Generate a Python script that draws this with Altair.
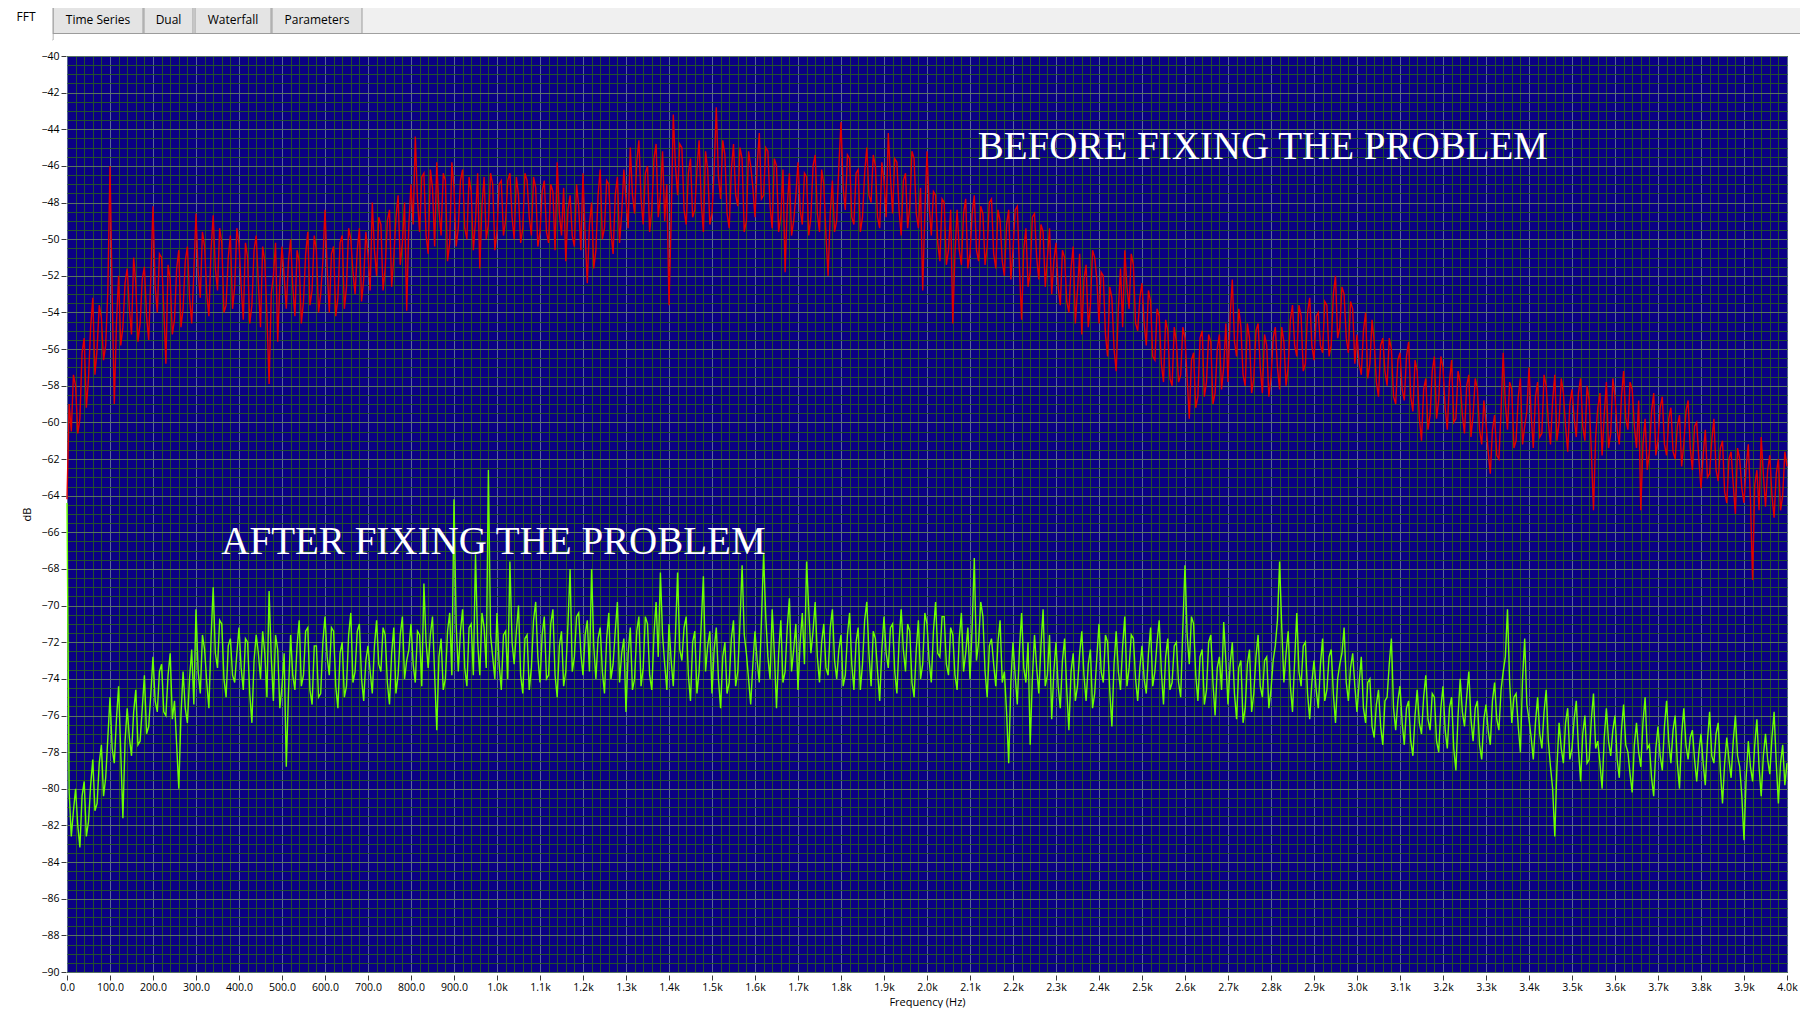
import altair as alt
import pandas as pd

# ---------------- data ----------------
# "BEFORE" spectrum, values at 0, 10, 20 ... 4000 Hz
BEFORE_DB_EVEN = [
    -64.2, -60.5, -58.0, -59.8, -55.4, -57.6, -53.2, -56.0, -54.3, -55.8,
    -46.0, -59.0, -52.0, -54.8, -51.6, -55.2, -52.4, -54.6, -51.5, -55.5,
    -48.2, -54.0, -51.0, -56.8, -52.2, -54.4, -50.6, -53.8, -50.4, -54.6,
    -48.6, -53.2, -50.4, -54.2, -48.7, -52.8, -50.2, -53.6, -49.8, -52.6,
    -50.2, -54.4, -51.0, -53.6, -49.8, -54.8, -51.2, -57.9, -52.0, -55.6,
    -50.4, -53.8, -50.0, -54.2, -51.2, -53.4, -49.6, -52.8, -50.6, -53.0,
    -48.4, -54.0, -50.4, -53.2, -49.8, -52.6, -50.0, -53.0, -49.4, -52.2,
    -50.8, -48.0, -52.0, -49.2, -51.6, -48.4, -51.0, -47.6, -50.2, -53.9,
    -47.0, -44.4, -49.6, -46.4, -50.8, -47.2, -45.8, -49.8, -46.8, -50.2,
    -47.2, -49.4, -46.2, -50.0, -47.4, -49.0, -51.6, -46.6, -49.2, -47.0,
    -49.6, -46.8, -49.0, -46.4, -50.0, -47.6, -49.4, -46.8, -49.8, -47.2,
    -49.6, -46.8, -50.2, -47.4, -45.8, -49.8, -51.2, -47.6, -50.4, -48.2,
    -46.4, -52.4, -48.0, -50.6, -46.2, -49.4, -47.0, -50.8, -46.6, -48.6,
    -47.8, -45.0, -48.6, -44.6, -49.2, -46.0, -48.4, -44.8, -47.6, -49.0,
    -53.6, -43.2, -47.6, -45.0, -49.2, -45.6, -48.4, -44.6, -49.6, -46.2,
    -48.6, -42.8, -47.8, -45.4, -49.4, -44.8, -48.2, -45.6, -49.0, -46.0,
    -48.8, -44.2, -47.6, -45.2, -49.4, -46.0, -48.8, -51.8, -46.4, -49.0,
    -45.8, -49.2, -46.6, -48.8, -45.4, -49.6, -47.0, -52.0, -46.8, -49.0,
    -43.6, -48.4, -45.6, -49.2, -46.2, -48.8, -45.0, -48.0, -46.0, -49.4,
    -46.8, -44.2, -48.6, -45.8, -49.8, -46.4, -48.2, -45.6, -49.4, -52.8,
    -45.2, -49.8, -47.6, -51.2, -48.0, -50.6, -54.6, -48.4, -51.4, -47.8,
    -50.8, -47.6, -51.2, -48.6, -50.4, -47.8, -51.6, -49.0, -52.0, -48.4,
    -50.6, -48.2, -54.4, -49.4, -51.8, -48.6, -52.2, -49.6, -51.0, -53.0,
    -50.2, -53.6, -51.0, -54.0, -50.4, -52.8, -55.2, -51.4, -53.6, -51.0,
    -54.6, -52.0, -56.4, -53.2, -57.2, -51.6, -50.6, -53.8, -51.4, -55.0,
    -52.4, -55.8, -53.4, -56.6, -54.2, -57.8, -55.0, -58.0, -55.6, -57.4,
    -55.4, -59.8, -56.2, -58.6, -55.0, -57.8, -55.6, -58.4, -55.2, -57.0,
    -57.8, -52.2, -56.4, -54.8, -58.0, -55.4, -57.6, -54.6, -58.4, -55.8,
    -57.6, -54.8, -58.2, -55.6, -57.0, -53.6, -56.4, -54.2, -56.8, -53.2,
    -56.6, -54.0, -56.2, -53.6, -55.8, -52.0, -54.8, -53.0, -56.2, -53.8,
    -55.2, -57.4, -54.0, -56.8, -55.6, -58.6, -55.4, -58.0, -56.0, -59.0,
    -56.2, -58.8, -55.6, -59.4, -57.2, -61.0, -57.6, -59.6, -56.4, -58.8,
    -57.0, -60.4, -56.6, -59.8, -57.8, -60.6, -57.4, -59.6, -58.2, -61.2,
    -60.0, -62.8, -59.6, -62.0, -56.2, -60.4, -58.2, -61.0, -57.6, -60.2,
    -57.0, -61.4, -57.8, -60.6, -58.0, -61.2, -57.4, -60.0, -58.4, -61.6,
    -58.2, -60.8, -57.6, -61.0, -58.8, -64.8, -59.2, -61.8, -57.8, -60.6,
    -58.6, -61.2, -57.2, -60.4, -58.2, -61.4, -64.8, -59.8, -61.6, -58.4,
    -61.0, -58.6, -61.8, -59.2, -62.0, -59.6, -61.2, -58.8, -62.6, -60.0,
    -63.6, -60.4, -62.8, -59.8, -63.2, -61.0, -64.4, -61.6, -65.0, -62.0,
    -64.4, -61.2, -68.6, -62.6, -60.8, -64.6, -61.8, -65.2, -62.0, -64.0,
    -62.4,
]
# "BEFORE" spectrum, values at 5, 15, 25 ... 3995 Hz
BEFORE_DB_ODD = [
    -59.0, -57.4, -60.6, -56.2, -59.2, -54.8, -57.4, -53.6, -56.6, -52.8,
    -53.0, -54.6, -55.8, -52.4, -53.8, -51.0, -55.6, -52.2, -54.2, -52.0,
    -52.6, -50.8, -53.8, -51.4, -55.2, -51.6, -54.8, -51.2, -53.2, -51.8,
    -51.8, -49.6, -53.0, -50.6, -51.6, -49.4, -54.0, -51.0, -53.8, -49.4,
    -52.6, -50.2, -54.6, -50.6, -52.4, -50.4, -54.2, -53.0, -50.2, -52.4,
    -52.0, -51.2, -52.6, -50.6, -54.6, -50.8, -53.6, -49.8, -54.0, -51.2,
    -51.6, -50.8, -54.2, -50.2, -53.8, -49.4, -51.8, -50.6, -53.4, -49.6,
    -52.8, -50.6, -48.8, -52.8, -49.0, -52.6, -48.8, -51.4, -48.0, -49.2,
    -49.2, -47.8, -46.6, -49.8, -46.2, -50.4, -48.4, -46.4, -51.2, -45.8,
    -50.4, -46.8, -49.4, -46.6, -50.6, -46.4, -48.2, -50.0, -46.4, -50.6,
    -47.0, -49.8, -46.8, -48.8, -46.6, -50.2, -46.4, -48.8, -46.6, -50.4,
    -47.4, -49.6, -47.0, -50.6, -48.6, -47.2, -48.4, -49.8, -47.0, -50.6,
    -49.8, -49.2, -51.6, -47.6, -50.0, -46.8, -49.6, -47.6, -50.2, -46.2,
    -49.4, -47.6, -45.8, -47.8, -46.4, -49.6, -45.6, -48.8, -45.2, -47.0,
    -49.0, -46.0, -44.8, -48.4, -46.4, -48.8, -46.2, -48.0, -45.2, -49.2,
    -46.2, -46.6, -44.6, -48.6, -46.2, -47.6, -45.0, -49.6, -45.2, -47.2,
    -46.0, -47.8, -45.0, -48.2, -45.6, -49.6, -46.2, -48.2, -49.8, -47.6,
    -48.4, -46.4, -49.8, -46.0, -48.6, -46.2, -49.8, -48.6, -49.6, -46.0,
    -47.2, -45.4, -48.8, -46.4, -49.6, -46.4, -47.6, -45.4, -48.8, -45.8,
    -48.8, -46.6, -45.6, -48.4, -46.8, -49.4, -45.2, -48.6, -47.2, -48.6,
    -48.2, -47.4, -50.2, -47.8, -51.4, -48.4, -50.8, -50.6, -48.6, -51.6,
    -48.6, -50.6, -48.2, -51.4, -48.0, -50.8, -48.4, -51.2, -49.2, -52.2,
    -48.4, -51.6, -50.6, -52.6, -48.8, -51.0, -49.2, -52.6, -49.4, -51.2,
    -52.6, -50.6, -53.4, -51.6, -54.6, -50.8, -52.2, -54.8, -50.6, -52.2,
    -51.8, -55.2, -52.6, -56.0, -53.8, -54.8, -52.6, -50.8, -54.6, -53.2,
    -54.6, -52.8, -56.4, -53.8, -56.8, -54.4, -57.6, -54.8, -57.8, -54.8,
    -57.6, -56.6, -59.2, -55.4, -58.6, -55.2, -59.0, -56.0, -58.2, -54.6,
    -54.2, -55.6, -53.8, -57.4, -54.6, -58.4, -55.0, -57.0, -55.2, -58.6,
    -55.4, -57.0, -54.8, -58.0, -54.4, -55.8, -53.6, -57.2, -54.0, -55.8,
    -54.2, -55.8, -53.4, -56.4, -53.0, -55.4, -52.6, -55.4, -53.4, -56.8,
    -56.8, -55.0, -57.6, -54.4, -57.8, -55.8, -57.2, -55.4, -58.6, -56.6,
    -58.2, -56.4, -58.6, -56.6, -59.8, -58.2, -60.4, -57.2, -59.8, -56.4,
    -59.2, -57.8, -60.0, -57.2, -59.6, -58.0, -60.8, -57.6, -60.4, -58.8,
    -61.6, -60.4, -61.8, -59.4, -59.0, -57.8, -61.4, -58.6, -61.2, -59.4,
    -59.6, -58.6, -60.8, -57.4, -60.0, -58.8, -61.0, -57.6, -60.2, -59.0,
    -59.8, -58.4, -60.2, -58.0, -61.6, -60.8, -58.4, -59.6, -61.4, -57.6,
    -60.4, -58.6, -59.8, -57.8, -60.2, -58.8, -61.2, -62.6, -59.4, -61.8,
    -59.2, -61.2, -59.8, -61.6, -60.2, -62.4, -59.4, -61.4, -60.2, -62.0,
    -61.8, -63.0, -61.0, -62.6, -61.4, -63.8, -62.0, -63.4, -61.4, -63.6,
    -62.4, -64.2, -63.4, -64.8, -62.8, -62.6, -64.0, -62.8, -64.8, -61.6,
]

# "AFTER" spectrum, values at 0, 10, 20 ... 4000 Hz
AFTER_DB_EVEN = [
    -64.4, -82.6, -80.0, -83.2, -79.6, -81.8, -78.4, -80.8, -77.6, -79.4,
    -75.0, -78.6, -74.4, -81.6, -75.6, -78.2, -74.6, -77.4, -73.8, -76.6,
    -72.8, -75.8, -73.2, -76.0, -72.6, -75.2, -80.0, -73.6, -76.4, -72.4,
    -70.2, -74.8, -72.4, -75.6, -69.0, -73.4, -71.0, -75.0, -71.8, -74.2,
    -71.2, -74.6, -72.0, -76.4, -71.6, -74.0, -72.6, -69.2, -75.2, -72.4,
    -74.4, -78.8, -71.6, -74.6, -70.8, -73.8, -71.2, -75.4, -72.2, -74.8,
    -70.6, -73.8, -71.4, -75.6, -72.0, -74.4, -70.4, -73.6, -71.0, -75.2,
    -72.2, -74.8, -70.8, -73.6, -71.6, -75.4, -71.2, -73.8, -70.6, -73.0,
    -71.0, -74.2, -71.6, -68.8, -73.4, -70.6, -76.8, -71.8, -74.0, -70.4,
    -64.2, -73.6, -70.2, -74.4, -71.0, -67.2, -73.8, -71.2, -62.6, -72.8,
    -70.4, -74.6, -71.4, -67.6, -73.2, -70.0, -74.8, -71.6, -73.4, -69.8,
    -74.2, -70.6, -73.8, -70.2, -75.0, -71.4, -73.6, -68.0, -72.8, -70.4,
    -73.8, -70.8, -68.0, -74.0, -71.2, -74.8, -70.4, -73.2, -69.8, -72.6,
    -75.8, -71.2, -74.0, -70.6, -73.4, -71.0, -74.6, -69.8, -68.2, -73.2,
    -71.0, -74.4, -68.2, -73.0, -70.6, -75.2, -71.4, -73.6, -68.4, -72.2,
    -74.8, -71.2, -75.6, -72.0, -74.2, -70.8, -73.6, -67.8, -72.6, -75.4,
    -71.4, -74.2, -67.2, -72.8, -70.2, -75.6, -70.8, -73.6, -69.6, -72.4,
    -74.6, -70.4, -67.6, -72.6, -69.8, -74.2, -71.0, -73.8, -70.2, -74.0,
    -71.6, -73.8, -70.4, -74.6, -71.2, -73.2, -69.8, -74.4, -71.8, -75.2,
    -70.6, -73.4, -71.0, -74.8, -70.2, -73.6, -71.4, -75.0, -70.8, -73.2,
    -71.0, -74.2, -69.8, -72.8, -70.6, -73.8, -71.6, -74.6, -70.4, -72.6,
    -74.0, -67.4, -72.0, -70.6, -75.0, -71.8, -74.4, -70.8, -73.6, -78.6,
    -72.0, -75.4, -70.4, -74.2, -77.6, -71.6, -74.8, -70.2, -73.8, -76.2,
    -72.0, -75.6, -71.8, -76.8, -72.6, -74.4, -71.4, -75.2, -72.4, -74.8,
    -71.0, -74.2, -72.0, -76.6, -71.4, -74.6, -70.6, -73.4, -71.8, -75.2,
    -72.2, -74.8, -71.2, -73.6, -70.8, -75.4, -71.8, -74.2, -72.0, -75.0,
    -67.8, -73.2, -71.0, -75.2, -72.4, -74.6, -71.6, -76.0, -72.8, -70.9,
    -75.4, -72.0, -76.2, -73.0, -75.6, -72.4, -74.8, -71.6, -75.0, -72.8,
    -74.6, -72.2, -67.6, -74.2, -71.4, -75.8, -70.4, -74.4, -72.0, -76.2,
    -73.0, -75.6, -71.8, -74.6, -72.4, -76.4, -73.2, -71.2, -75.2, -72.6,
    -75.8, -72.8, -76.4, -74.0, -77.2, -74.6, -77.6, -75.0, -71.8, -76.8,
    -74.4, -77.6, -75.2, -78.2, -74.6, -77.0, -73.8, -76.8, -75.0, -78.0,
    -74.4, -77.8, -75.0, -79.0, -74.0, -76.6, -73.6, -77.4, -75.2, -78.4,
    -75.4, -77.6, -74.2, -76.8, -73.6, -70.2, -76.4, -74.8, -78.0, -71.8,
    -76.2, -78.4, -75.0, -77.8, -74.6, -78.8, -82.6, -76.4, -78.6, -75.6,
    -77.8, -75.2, -79.6, -76.0, -78.4, -74.8, -77.4, -80.0, -75.6, -78.2,
    -76.0, -79.4, -75.4, -78.0, -80.2, -76.4, -78.8, -75.0, -77.6, -80.4,
    -76.6, -79.0, -75.2, -78.6, -76.0, -80.0, -75.6, -78.4, -76.8, -79.6,
    -77.0, -79.8, -75.8, -78.6, -76.4, -80.8, -77.2, -79.4, -76.0, -78.8,
    -82.8, -77.4, -79.6, -76.2, -80.4, -77.0, -79.2, -75.8, -80.8, -77.6,
    -78.6,
]
# "AFTER" spectrum, values at 5, 15, 25 ... 3995 Hz
AFTER_DB_ODD = [
    -80.2, -81.2, -82.0, -80.4, -82.6, -79.8, -81.2, -78.6, -80.4, -77.2,
    -77.8, -76.2, -78.0, -77.4, -77.2, -75.8, -77.6, -75.6, -77.0, -74.8,
    -75.2, -73.6, -75.8, -73.8, -76.2, -77.6, -76.0, -75.6, -74.0, -75.4,
    -73.6, -71.6, -74.2, -71.8, -72.6, -70.8, -74.0, -72.2, -73.8, -72.6,
    -73.4, -71.8, -74.8, -73.0, -72.6, -71.4, -75.0, -72.8, -71.6, -75.6,
    -72.6, -74.8, -73.8, -72.2, -74.4, -71.4, -74.6, -72.2, -75.0, -72.0,
    -72.8, -71.2, -74.4, -72.6, -75.0, -71.6, -74.2, -71.4, -74.0, -73.0,
    -73.6, -72.2, -73.2, -71.2, -74.2, -72.6, -74.8, -71.6, -74.0, -72.4,
    -73.2, -71.4, -74.4, -72.0, -71.6, -73.8, -72.8, -74.6, -71.4, -73.8,
    -71.0, -71.4, -73.4, -71.2, -73.8, -72.0, -70.4, -73.4, -71.6, -74.0,
    -73.2, -71.6, -74.0, -72.0, -71.4, -73.8, -71.8, -74.6, -70.8, -72.8,
    -71.6, -74.0, -71.0, -73.8, -72.2, -74.4, -71.0, -73.6, -70.6, -72.6,
    -71.6, -73.6, -72.2, -71.8, -73.6, -71.8, -74.0, -71.4, -74.2, -71.8,
    -72.6, -74.6, -71.4, -74.4, -70.6, -73.8, -71.6, -72.8, -71.6, -74.6,
    -73.0, -71.6, -72.4, -71.2, -73.8, -72.0, -74.8, -71.0, -73.6, -71.4,
    -72.4, -74.0, -72.8, -74.8, -71.8, -74.4, -71.0, -71.6, -74.0, -73.2,
    -73.0, -70.8, -70.6, -74.0, -72.6, -72.6, -74.2, -71.2, -73.6, -71.0,
    -72.0, -73.2, -70.2, -71.4, -72.8, -72.0, -73.4, -71.2, -73.0, -72.4,
    -74.4, -71.6, -73.2, -72.0, -74.6, -70.8, -72.6, -71.4, -73.6, -72.4,
    -72.6, -71.2, -73.6, -72.0, -72.4, -71.0, -74.2, -72.4, -74.0, -70.4,
    -73.0, -71.4, -72.6, -70.6, -73.2, -71.2, -73.8, -71.8, -73.6, -71.2,
    -71.2, -73.0, -69.8, -73.6, -72.2, -73.2, -72.0, -74.2, -75.8, -74.2,
    -73.8, -72.4, -73.4, -72.0, -74.0, -73.4, -72.2, -74.4, -71.6, -73.6,
    -74.4, -73.0, -74.6, -73.6, -75.2, -72.6, -73.8, -73.2, -75.6, -72.8,
    -73.6, -71.6, -74.6, -73.2, -73.6, -72.2, -74.4, -71.6, -74.0, -73.4,
    -74.0, -72.6, -74.4, -72.0, -73.6, -72.8, -74.6, -72.2, -74.2, -71.2,
    -71.6, -70.6, -73.8, -72.8, -75.4, -72.0, -74.2, -73.4, -74.6, -73.0,
    -73.2, -74.8, -73.4, -76.4, -73.2, -75.8, -72.8, -74.4, -73.0, -75.6,
    -73.0, -70.8, -71.2, -72.6, -74.4, -73.0, -73.6, -72.2, -74.8, -74.2,
    -74.6, -73.2, -75.2, -72.8, -74.8, -74.0, -72.6, -74.2, -73.4, -74.4,
    -74.2, -75.6, -74.2, -76.6, -75.4, -76.6, -75.2, -73.2, -75.6, -75.2,
    -76.4, -75.6, -77.4, -76.0, -76.4, -75.0, -76.2, -74.8, -77.4, -75.6,
    -76.8, -75.6, -77.8, -76.0, -75.8, -75.0, -76.2, -75.6, -77.6, -76.2,
    -76.8, -75.2, -76.2, -74.6, -72.8, -74.2, -75.0, -76.6, -74.0, -75.4,
    -77.2, -76.4, -77.0, -75.8, -77.4, -80.0, -78.8, -77.8, -76.4, -78.4,
    -76.2, -77.8, -77.0, -78.6, -76.2, -77.8, -78.6, -77.2, -77.4, -76.8,
    -78.4, -76.8, -77.6, -79.2, -77.6, -78.0, -76.4, -77.8, -79.4, -77.8,
    -78.2, -76.6, -77.4, -76.8, -78.6, -77.0, -77.6, -77.2, -78.4, -78.0,
    -78.6, -77.4, -78.2, -77.0, -79.0, -78.6, -78.4, -77.4, -78.2, -80.4,
    -79.4, -78.8, -77.6, -78.8, -78.2, -78.4, -77.2, -78.6, -78.6, -79.8,
]

FREQ_HZ = [i * 5 for i in range(801)]  # FFT bins, 0 .. 4000 Hz


def merge(even, odd):
    out = []
    for e, o in zip(even, odd):
        out.extend([e, o])
    out.append(even[-1])
    return out


BEFORE_DB = merge(BEFORE_DB_EVEN, BEFORE_DB_ODD)
AFTER_DB = merge(AFTER_DB_EVEN, AFTER_DB_ODD)

X_TICKS = list(range(0, 4001, 100))
X_MINOR = list(range(0, 4001, 20))
Y_TICKS = list(range(-90, -39, 2))
Y_MINOR = [-90 + 0.5 * i for i in range(101)]

TABS = ["FFT", "Time Series", "Dual", "Waterfall", "Parameters"]
ANNOT_BEFORE = "BEFORE FIXING THE PROBLEM"
ANNOT_AFTER = "AFTER FIXING THE PROBLEM"

# ---------------- styles ----------------
BG = "#0b0184"
MINOR_GRID = "#23512e"
MAJOR_GRID_X = "#5a6a90"
MAJOR_GRID_Y = "#587460"
RED = "#e00000"
GREEN = "#6cff00"
UI_FONT = "Open Sans"

W, H = 1720, 916
PAD_L, PAD_T = 59, 48
OX, OY = 67, 56  # page position of plot origin


def px(x):
    return x - OX


def py(y):
    return y - OY


X_SCALE = alt.Scale(domain=[0, 4000], nice=False, zero=False)
Y_SCALE = alt.Scale(domain=[-90, -40], nice=False, zero=False)

red_df = pd.DataFrame({"freq": FREQ_HZ, "db": BEFORE_DB})
green_df = pd.DataFrame({"freq": FREQ_HZ, "db": AFTER_DB})
ONE = alt.Data(values=[{}])

# red line carries the minor grid (top/right axes, no labels)
red = alt.Chart(red_df).mark_line(color=RED, strokeWidth=1.4).encode(
    x=alt.X("freq:Q", scale=X_SCALE,
            axis=alt.Axis(orient="top", values=X_MINOR, grid=True, gridColor=MINOR_GRID,
                          gridWidth=1, labels=False, ticks=False, domain=False, title=None)),
    y=alt.Y("db:Q", scale=Y_SCALE,
            axis=alt.Axis(orient="right", values=Y_MINOR, grid=True, gridColor=MINOR_GRID,
                          gridWidth=1, labels=False, ticks=False, domain=False, title=None)),
)

# green line carries the labelled axes and the major grid
green = alt.Chart(green_df).mark_line(color=GREEN, strokeWidth=1.4).encode(
    x=alt.X("freq:Q", scale=X_SCALE,
            axis=alt.Axis(orient="bottom", values=X_TICKS, grid=True, gridColor=MAJOR_GRID_X,
                          gridWidth=1, domain=False, title="Frequency (Hz)",
                          labelExpr="datum.value < 1000 ? format(datum.value, '.1f') : format(datum.value / 1000, '.1f') + 'k'",
                          offset=3, tickSize=5, labelPadding=2, titlePadding=4,
                          labelFlush=False, labelOverlap=False)),
    y=alt.Y("db:Q", scale=Y_SCALE,
            axis=alt.Axis(orient="left", values=Y_TICKS, grid=True, gridColor=MAJOR_GRID_Y,
                          gridWidth=1, domain=False, title="dB", format="d",
                          offset=1, tickSize=5, labelPadding=2, titlePadding=8,
                          labelFlush=False, labelOverlap=False)),
)

before_txt = alt.Chart(ONE).mark_text(
    text=ANNOT_BEFORE, font="Liberation Serif", fontSize=39, color="white",
    align="left", baseline="alphabetic",
).encode(x=alt.XDatum(2118, axis=None), y=alt.YDatum(-45.6, axis=None))

after_txt = alt.Chart(ONE).mark_text(
    text=ANNOT_AFTER, font="Liberation Serif", fontSize=39, color="white",
    align="left", baseline="alphabetic",
).encode(x=alt.XDatum(359, axis=None), y=alt.YDatum(-67.2, axis=None))


def box(x1, x2, y1, y2, fill, stroke=None):
    kw = dict(fill=fill, strokeWidth=1)
    if stroke is not None:
        kw["stroke"] = stroke
    return alt.Chart(ONE).mark_rect(**kw).encode(
        x=alt.value(px(x1)), x2=alt.value(px(x2)),
        y=alt.value(py(y1)), y2=alt.value(py(y2)))


def label(text, cx, cy, size=12):
    return alt.Chart(ONE).mark_text(
        text=text, font=UI_FONT, fontSize=size, color="#000000",
        align="center", baseline="middle",
    ).encode(x=alt.value(px(cx)), y=alt.value(py(cy)))


chrome = [
    box(0, 1808, 0, 33, "#f0f0f0"),
    alt.Chart(ONE).mark_rule(color="#a0a0a0", strokeWidth=1).encode(
        x=alt.value(px(53)), x2=alt.value(px(1808)), y=alt.value(py(33.5))),
]
tab_boxes = [(53, 143), (144, 193), (195, 271), (272, 362)]
tab_centers = [(26, 17), (98, 20), (168.5, 20), (233, 20), (317, 20)]
for (x1, x2) in tab_boxes:
    chrome.append(box(x1, x2, 6, 33.5, "#e4e4e4", "#9c9c9c"))
chrome.append(box(3, 53, 2, 40, "#ffffff", "#9c9c9c"))
chrome.append(box(4, 52.5, 34, 42, "#ffffff"))
for name, (cx, cy) in zip(TABS, tab_centers):
    chrome.append(label(name, cx, cy))

chart = alt.layer(
    *chrome, red, green, before_txt, after_txt
).resolve_axis(
    x="independent", y="independent"
).properties(
    width=W, height=H,
    padding={"left": PAD_L, "top": PAD_T, "right": 13, "bottom": 36},
    autosize=alt.AutoSizeParams(type="none"),
    background="white",
).configure_view(
    fill=BG, stroke="#8c8cd6", strokeWidth=1,
).configure_axis(
    labelFont=UI_FONT, labelFontSize=10.5, labelColor="#000000",
    titleFont=UI_FONT, titleFontSize=11, titleFontWeight="normal", titleColor="#000000",
    tickColor="#3a3a3a", tickWidth=1,
)

chart.save("out.html", embed_options={"renderer": "svg", "actions": False})
